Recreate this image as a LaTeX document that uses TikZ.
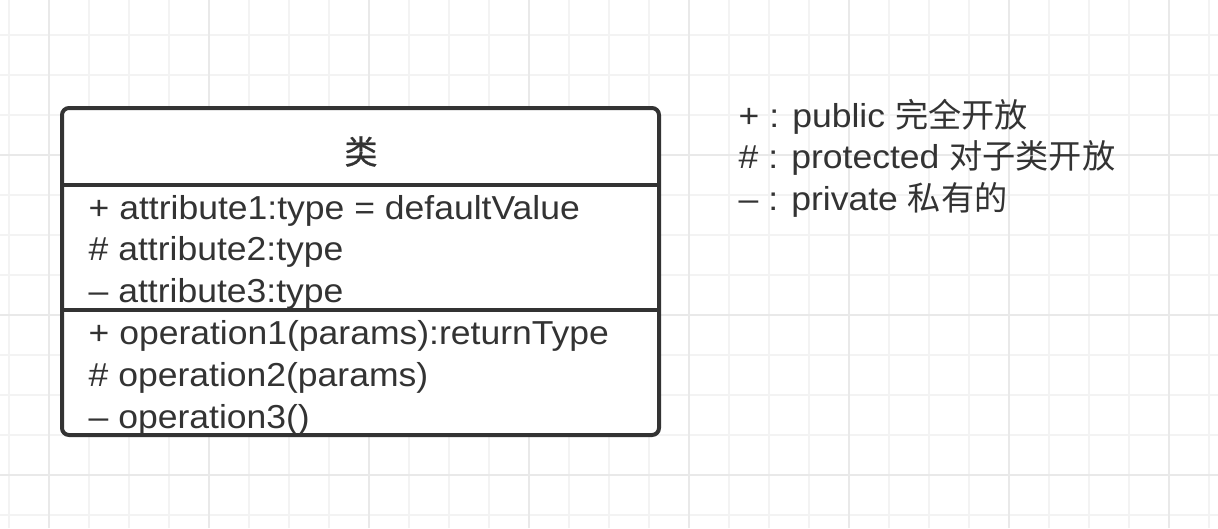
\documentclass[tikz,border=0pt]{standalone}
\usepackage{fontspec}
\setmainfont[FakeStretch=1.07]{Liberation Sans}
\newfontfamily\cjk{Noto Sans CJK SC}
\newfontfamily\cjktitle[FakeBold=0.8]{Noto Sans CJK SC}
\definecolor{ink}{HTML}{333333}
\definecolor{gridminor}{HTML}{F3F3F3}
\definecolor{gridmajor}{HTML}{E9E9E9}
\tikzset{
  minorline/.style={draw=gridminor, line width=1.6pt},
  majorline/.style={draw=gridmajor, line width=1.6pt},
  classbox/.style={draw=ink, line width=4pt, rounded corners=7pt, fill=white},
  divider/.style={draw=ink, line width=4pt},
  member/.style={anchor=base west, inner sep=0pt, text=ink, font=\fontsize{33.2}{40}\selectfont},
  titletext/.style={anchor=base, inner sep=0pt, text=ink, font=\fontsize{33}{40}\selectfont\cjktitle},
}
\begin{document}
\begin{tikzpicture}[x=1pt, y=-1pt]
\useasboundingbox (0,0) rectangle (1218,528);
\fill[white] (0,0) rectangle (1218,528);
% grid
\foreach \x in {9,49,...,1209} \draw[minorline] (\x,0) -- (\x,528);
\foreach \y in {35,75,...,515} \draw[minorline] (0,\y) -- (1218,\y);
\foreach \x in {49,209,...,1169} \draw[majorline] (\x,0) -- (\x,528);
\foreach \y in {155,315,475} \draw[majorline] (0,\y) -- (1218,\y);
% class box
\draw[classbox] (62,108) rectangle (659,435);
\coordinate (d1w) at (62,185);
\coordinate (d1e) at (659,185);
\coordinate (d2w) at (62,310);
\coordinate (d2e) at (659,310);
\draw[divider] (d1w) -- (d1e);
\draw[divider] (d2w) -- (d2e);
\node[titletext] (title) at (361,164) {类};
\node[member] (a1) at (88.5,219) {+ attribute1:type = defaultValue};
\node[member] (a2) at (88.5,260.8) {\# attribute2:type};
\node[member] (a3) at (88.5,302.5) {– attribute3:type};
\node[member] (o1) at (88.5,344.5) {+ operation1(params):returnType};
\node[member] (o2) at (88.5,386.3) {\# operation2(params)};
\node[member] (o3) at (88.5,428) {– operation3()};
% legend
\node[member] (l1) at (738.5,127) {+ : public {\cjk 完全开放}};
\node[member] (l2) at (738.5,168.5) {\# : protected {\cjk 对子类开放}};
\node[member] (l3) at (738.5,210) {– : private {\cjk 私有的}};
\end{tikzpicture}
\end{document}
